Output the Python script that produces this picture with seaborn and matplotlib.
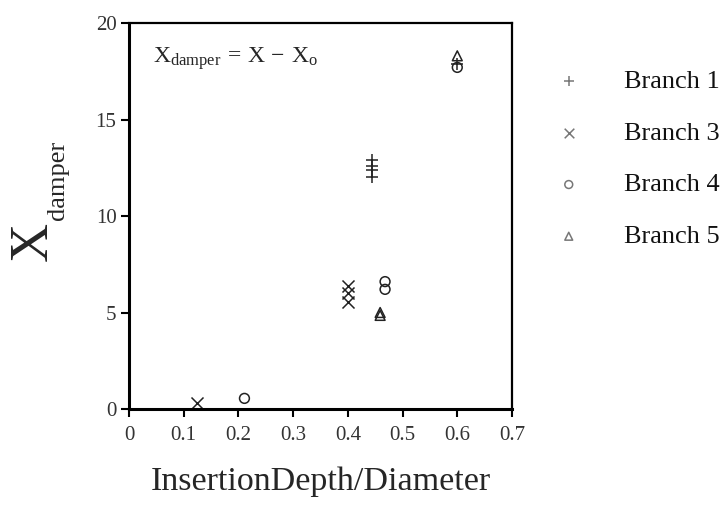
import matplotlib
matplotlib.use("Agg")
import matplotlib.pyplot as plt
import seaborn as sns
import pandas as pd

# Data
b1_x = [0.445, 0.445, 0.445, 0.445, 0.600]
b1_y = [12.9, 12.6, 12.4, 12.0, 17.9]
b3_x = [0.124, 0.400, 0.400, 0.400]
b3_y = [0.3, 6.35, 6.0, 5.55]
b4_x = [0.211, 0.468, 0.468, 0.600]
b4_y = [0.55, 6.6, 6.2, 17.7]
b5_x = [0.459, 0.459, 0.600]
b5_y = [5.0, 4.85, 18.3]

labels = ["Branch 1", "Branch 3", "Branch 4", "Branch 5"]
x_ticks = [0, 0.1, 0.2, 0.3, 0.4, 0.5, 0.6, 0.7]
x_tick_labels = ["0", "0.1", "0.2", "0.3", "0.4", "0.5", "0.6", "0.7"]
y_ticks = [0, 5, 10, 15, 20]

sns.set_style("white")
plt.rcParams["font.family"] = ["Liberation Serif", "DejaVu Serif"]
plt.rcParams["mathtext.fontset"] = "custom"
plt.rcParams["mathtext.rm"] = "Liberation Serif"
plt.rcParams["mathtext.it"] = "Liberation Serif"

fig = plt.figure(figsize=(7.25, 5.11), dpi=100)
ax = fig.add_axes([129 / 725, 1 - 409 / 511, (512 - 129) / 725, (409 - 23) / 511])

col = "#222222"
series = [(b1_x, b1_y, "+"), (b3_x, b3_y, "x"), (b4_x, b4_y, "o"), (b5_x, b5_y, "^")]
for (xs, ys, m), lab in zip(series, labels):
    df = pd.DataFrame({"x": xs, "y": ys})
    if m in ("o", "^"):
        sns.scatterplot(data=df, x="x", y="y", marker=m, s=50, ax=ax, label=lab,
                        facecolors="none", edgecolors=col, linewidth=1.1)
    else:
        sns.scatterplot(data=df, x="x", y="y", marker=m, s=75, ax=ax, label=lab,
                        color=col, linewidth=1.1)

ax.set_xlim(0, 0.7)
ax.set_ylim(0, 20)
ax.set_xticks(x_ticks)
ax.set_xticklabels(x_tick_labels)
ax.set_yticks(y_ticks)
ax.tick_params(axis="both", direction="out", length=6, width=1.5, labelsize=15,
               colors="black", left=True, bottom=True, top=False, right=False, pad=3)
ax.tick_params(axis="x", pad=6)
for t in ax.get_xticklabels() + ax.get_yticklabels():
    t.set_color("#333333")
for side in ["left", "bottom"]:
    ax.spines[side].set_linewidth(2.2)
    ax.spines[side].set_color("black")
for side in ["top", "right"]:
    ax.spines[side].set_linewidth(1.6)
    ax.spines[side].set_color("black")

ax.set_xlabel("InsertionDepth/Diameter", fontsize=24.5, labelpad=16)
ax.set_ylabel("")

# y label built from a large X and a smaller subscript
fig.text(33 / 725, 1 - 241 / 511, "X", rotation=90, fontsize=39, ha="center", va="center")
fig.text(58 / 725, 1 - 180 / 511, "damper", rotation=90, fontsize=19, ha="center", va="center")

ax.text(0.062, 0.908, r"$\mathrm{X_{damper}\,=\,X\,-\,X_o}$", transform=ax.transAxes,
        fontsize=17, ha="left", va="center")

leg = ax.legend(loc="upper left", bbox_to_anchor=(545 / 725, 1 - 59 / 511),
                bbox_transform=fig.transFigure, frameon=False, fontsize=19,
                handlelength=1.0, handletextpad=1.6, labelspacing=1.07, borderaxespad=0,
                markerscale=0.8)
for t in leg.get_texts():
    t.set_color("#111111")
for h in leg.legend_handles:
    try:
        if h.get_facecolor().size and h.get_facecolor()[0][3] > 0:
            h.set_facecolor("#777777")
        h.set_edgecolor("#777777")
    except Exception:
        pass

fig.savefig("out.png", dpi=100)
